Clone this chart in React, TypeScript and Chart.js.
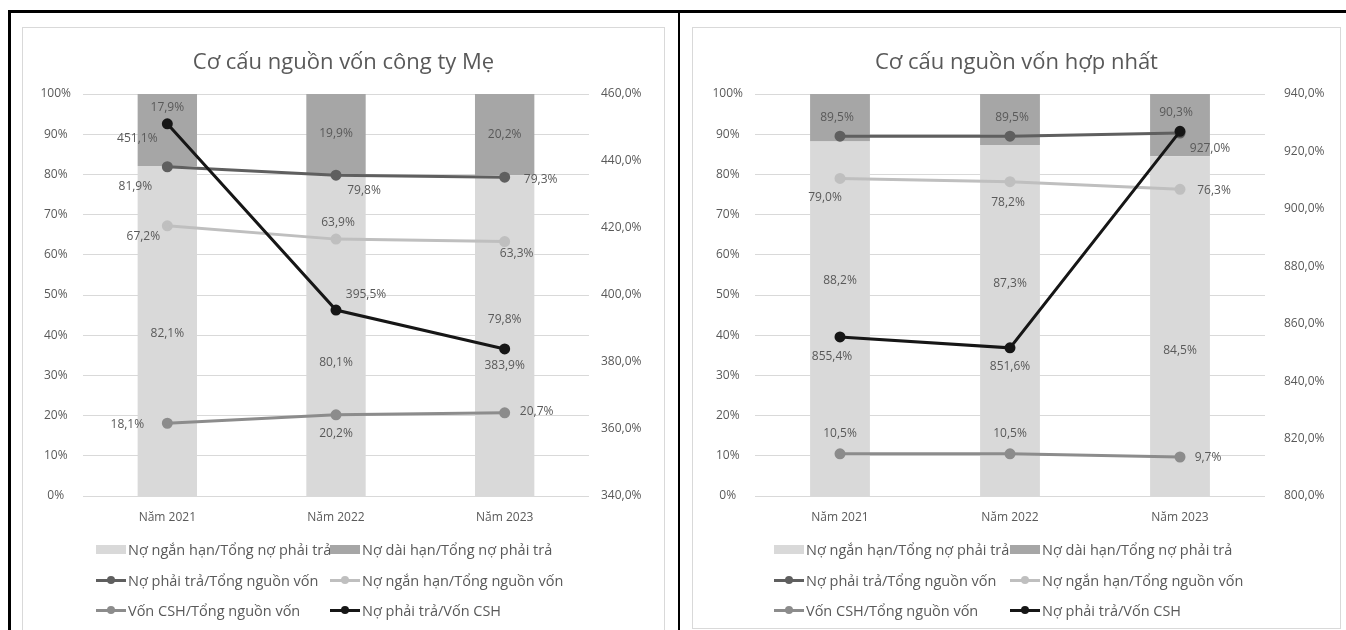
import React, { useEffect, useRef } from "react";
import { Chart, registerables } from "chart.js";

Chart.register(...registerables);

const FONT = "'Open Sans', 'Noto Sans', sans-serif";
const TEXT = "#595959";

// ---------- data ----------
const categories = ["Năm 2021", "Năm 2022", "Năm 2023"];

const seriesNames = [
  "Nợ ngắn hạn/Tổng nợ phải trả",
  "Nợ dài hạn/Tổng nợ phải trả",
  "Nợ phải trả/Tổng nguồn vốn",
  "Nợ ngắn hạn/Tổng nguồn vốn",
  "Vốn CSH/Tổng nguồn vốn",
  "Nợ phải trả/Vốn CSH",
];

// Chart 1 – công ty Mẹ
const meTitle = "Cơ cấu nguồn vốn công ty Mẹ";
const meShortDebtShare = [82.1, 80.1, 79.8];
const meLongDebtShare = [17.9, 19.9, 20.2];
const meDebtToCapital = [81.9, 79.8, 79.3];
const meShortDebtToCapital = [67.2, 63.9, 63.3];
const meEquityToCapital = [18.1, 20.2, 20.7];
const meDebtToEquity = [451.1, 395.5, 383.9];
const meRightAxis = { min: 340, max: 460, step: 20 };

// Chart 2 – hợp nhất
const hnTitle = "Cơ cấu nguồn vốn hợp nhất";
const hnShortDebtShare = [88.2, 87.3, 84.5];
const hnLongDebtShare = [11.8, 12.7, 15.5];
const hnDebtToCapital = [89.5, 89.5, 90.3];
const hnShortDebtToCapital = [79.0, 78.2, 76.3];
const hnEquityToCapital = [10.5, 10.5, 9.7];
const hnDebtToEquity = [855.4, 851.6, 927.0];
const hnRightAxis = { min: 800, max: 940, step: 20 };

const leftAxis = { min: 0, max: 100, step: 10 };

// ---------- styles ----------
const colors = {
  barShort: "#d9d9d9",
  barLong: "#a6a6a6",
  debt: "#5f5f5f",
  shortDebt: "#bfbfbf",
  equity: "#8c8c8c",
  debtEquity: "#161616",
};

const fmtPct1 = (v: number) => v.toFixed(1).replace(".", ",") + "%";

const dataLabelPlugin = {
  id: "dataLabels",
  afterDatasetsDraw(chart: any) {
    const ctx = chart.ctx;
    ctx.save();
    ctx.font = `12px ${FONT}`;
    ctx.fillStyle = TEXT;
    ctx.textAlign = "center";
    ctx.textBaseline = "middle";
    chart.data.datasets.forEach((ds: any, i: number) => {
      const offs = ds.labelOffsets;
      if (!offs) return;
      const meta = chart.getDatasetMeta(i);
      meta.data.forEach((el: any, j: number) => {
        const v = ds.data[j];
        let x = el.x;
        let y = el.y;
        if (meta.type === "bar") y = (el.y + el.base) / 2;
        ctx.fillText(fmtPct1(v), x + offs[j][0], y + offs[j][1]);
      });
    });
    ctx.restore();
  },
};

type ChartSpec = {
  short: number[];
  long: number[];
  debt: number[];
  shortDebt: number[];
  equity: number[];
  debtEquity: number[];
  right: { min: number; max: number; step: number };
  offsets: {
    short: number[][];
    long: number[][] | null;
    debt: number[][];
    shortDebt: number[][];
    equity: number[][];
    debtEquity: number[][];
  };
  leftWidth: number;
  rightWidth: number;
  rightPad: number;
};

function lineDs(label: string, data: number[], color: string, axis: string, order: number, offs: number[][]) {
  return {
    type: "line",
    label,
    data,
    borderColor: color,
    backgroundColor: color,
    borderWidth: 3,
    pointRadius: 4,
    pointHoverRadius: 4,
    pointBackgroundColor: color,
    pointBorderColor: color,
    tension: 0,
    yAxisID: axis,
    order,
    labelOffsets: offs,
  };
}

function ChartCanvas({ spec, width, height }: { spec: ChartSpec; width: number; height: number }) {
  const ref = useRef<HTMLCanvasElement | null>(null);
  useEffect(() => {
    if (!ref.current) return;
    const s = spec;
    const chart = new Chart(ref.current, {
      data: {
        labels: categories,
        datasets: [
          {
            type: "bar",
            label: seriesNames[0],
            data: s.short,
            backgroundColor: colors.barShort,
            yAxisID: "yBar",
            order: 10,
            categoryPercentage: 1,
            barPercentage: 0.352,
            labelOffsets: s.offsets.short,
          },
          {
            type: "bar",
            label: seriesNames[1],
            data: s.long,
            backgroundColor: colors.barLong,
            yAxisID: "yBar",
            order: 11,
            categoryPercentage: 1,
            barPercentage: 0.352,
            labelOffsets: s.offsets.long,
          },
          lineDs(seriesNames[2], s.debt, colors.debt, "y", 3, s.offsets.debt),
          lineDs(seriesNames[3], s.shortDebt, colors.shortDebt, "y", 4, s.offsets.shortDebt),
          lineDs(seriesNames[4], s.equity, colors.equity, "y", 2, s.offsets.equity),
          lineDs(seriesNames[5], s.debtEquity, colors.debtEquity, "y1", 1, s.offsets.debtEquity),
        ] as any,
      },
      options: {
        responsive: false,
        animation: false,
        events: [],
        layout: { padding: { top: 66, left: 0, right: 0, bottom: height - 468 - 40 }, autoPadding: false },
        plugins: { legend: { display: false }, title: { display: false }, tooltip: { enabled: false } },
        scales: {
          x: {
            stacked: true,
            grid: { display: false, drawTicks: false },
            border: { display: false },
            ticks: { color: TEXT, font: { size: 12, family: FONT }, padding: 14 },
            afterFit: (sc: any) => {
              sc.height = 40;
            },
          },
          yBar: {
            display: false,
            stacked: true,
            min: leftAxis.min,
            max: leftAxis.max,
          },
          y: {
            position: "left",
            min: leftAxis.min,
            max: leftAxis.max,
            grid: { color: "#d9d9d9", lineWidth: 1, drawTicks: false },
            border: { display: false },
            ticks: {
              stepSize: leftAxis.step,
              color: TEXT,
              font: { size: 12, family: FONT },
              padding: 12,
              crossAlign: "center",
              callback: (v: any) => `${v}%`,
            },
            afterFit: (sc: any) => {
              sc.width = s.leftWidth;
            },
          },
          y1: {
            position: "right",
            min: s.right.min,
            max: s.right.max,
            grid: { display: false, drawTicks: false },
            border: { display: false },
            ticks: {
              stepSize: s.right.step,
              color: TEXT,
              font: { size: 12, family: FONT },
              padding: s.rightPad,
              callback: (v: any) => fmtPct1(Number(v)),
            },
            afterFit: (sc: any) => {
              sc.width = s.rightWidth;
            },
          },
        },
      } as any,
      plugins: [dataLabelPlugin],
    });
    return () => chart.destroy();
  }, [spec, width, height]);
  return <canvas ref={ref} width={width} height={height} style={{ display: "block", width, height }} />;
}

function LegendSwatch({ kind, color }: { kind: string; color: string }) {
  if (kind === "bar") {
    return <span style={{ display: "inline-block", width: 30, height: 9, background: color, marginRight: 2 }} />;
  }
  return (
    <span style={{ position: "relative", display: "inline-block", width: 30, height: 12, marginRight: 2 }}>
      <span style={{ position: "absolute", left: 0, right: 0, top: 4.5, height: 3, background: color }} />
      <span
        style={{ position: "absolute", left: 11, top: 2, width: 8, height: 8, borderRadius: 4, background: color }}
      />
    </span>
  );
}

const legendKinds = ["bar", "bar", "line", "line", "line", "line"];
const legendColors = [colors.barShort, colors.barLong, colors.debt, colors.shortDebt, colors.equity, colors.debtEquity];

function Legend({ col1, col2 }: { col1: number; col2: number }) {
  const rows = [549, 580, 610];
  return (
    <>
      {seriesNames.map((name, i) => {
        const r = Math.floor(i / 2);
        const c = i % 2;
        return (
          <div
            key={i}
            style={{
              position: "absolute",
              left: c === 0 ? col1 : col2,
              top: rows[r] - 10,
              height: 20,
              display: "flex",
              alignItems: "center",
              font: `14.5px ${FONT}`,
              color: TEXT,
              whiteSpace: "nowrap",
            }}
          >
            <LegendSwatch kind={legendKinds[i]} color={legendColors[i]} />
            <span>{name}</span>
          </div>
        );
      })}
    </>
  );
}

const meSpec: ChartSpec = {
  short: meShortDebtShare,
  long: meLongDebtShare,
  debt: meDebtToCapital,
  shortDebt: meShortDebtToCapital,
  equity: meEquityToCapital,
  debtEquity: meDebtToEquity,
  right: meRightAxis,
  offsets: {
    short: [[0, 3], [0, 28], [0, -16]],
    long: [[0, -22], [0, 0], [0, 0]],
    debt: [[-32, 20], [28, 15], [36, 2]],
    shortDebt: [[-24, 11], [2, -17], [12, 12]],
    equity: [[-40, 1], [0, 19], [32, -1]],
    debtEquity: [[-30, 15], [30, -15], [0, 17]],
  },
  leftWidth: 60,
  rightWidth: 75,
  rightPad: 12,
};

const hnSpec: ChartSpec = {
  short: hnShortDebtShare,
  long: hnLongDebtShare,
  debt: hnDebtToCapital,
  shortDebt: hnShortDebtToCapital,
  equity: hnEquityToCapital,
  debtEquity: hnDebtToEquity,
  right: hnRightAxis,
  offsets: {
    short: [[0, -38], [0, -37], [0, 24]],
    long: null,
    debt: [[-3, -19], [2, -19], [-4, -20]],
    shortDebt: [[-15, 19], [-2, 21], [34, 1]],
    equity: [[0, -20], [0, -20], [28, 1]],
    debtEquity: [[-8, 20], [0, 19], [30, 17]],
  },
  leftWidth: 62,
  rightWidth: 75,
  rightPad: 19,
};

export default function App() {
  return (
    <div style={{ position: "absolute", left: 0, top: 0, width: 1346, height: 630, overflow: "hidden", background: "#fff" }}>
      {/* table borders */}
      <div style={{ position: "absolute", left: 8, top: 10, width: 1338, height: 3, background: "#000" }} />
      <div style={{ position: "absolute", left: 8, top: 10, width: 3, height: 620, background: "#000" }} />
      <div style={{ position: "absolute", left: 678, top: 10, width: 2, height: 620, background: "#000" }} />

      {/* chart 1 frame */}
      <div
        style={{ position: "absolute", left: 22, top: 27, width: 641, height: 620, border: "1px solid #d9d9d9" }}
      >
        <ChartCanvas spec={meSpec} width={641} height={598} />
      </div>
      <div
        style={{
          position: "absolute",
          left: 22,
          top: 45,
          width: 643,
          textAlign: "center",
          font: `22px ${FONT}`,
          lineHeight: "30px",
          color: TEXT,
        }}
      >
        {meTitle}
      </div>
      <Legend col1={96} col2={330} />

      {/* chart 2 frame */}
      <div
        style={{ position: "absolute", left: 692, top: 27, width: 647, height: 600, border: "1px solid #d9d9d9" }}
      >
        <ChartCanvas spec={hnSpec} width={647} height={598} />
      </div>
      <div
        style={{
          position: "absolute",
          left: 692,
          top: 45,
          width: 649,
          textAlign: "center",
          font: `22px ${FONT}`,
          lineHeight: "30px",
          color: TEXT,
        }}
      >
        {hnTitle}
      </div>
      <Legend col1={774} col2={1010} />
    </div>
  );
}
